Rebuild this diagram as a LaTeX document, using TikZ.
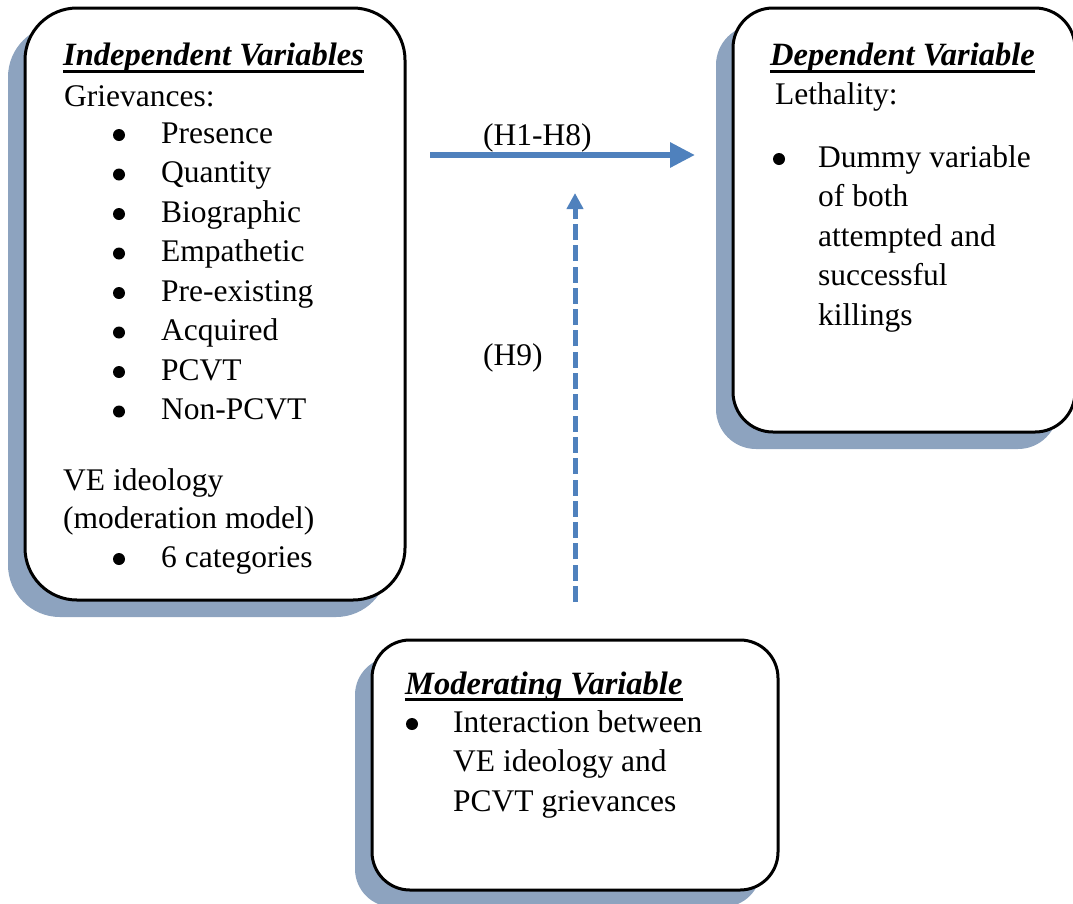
\documentclass[tikz,border=0pt]{standalone}
\usepackage{fontspec}
\setmainfont{Liberation Serif}
\usetikzlibrary{arrows.meta,calc}
\definecolor{shadowc}{RGB}{141,163,191}
\definecolor{arrowc}{RGB}{79,129,189}
\begin{document}
\begin{tikzpicture}[x=1pt,y=-1pt,
  varbox/.style={draw=black,line width=3pt,fill=white,inner sep=0pt},
  shad/.style={fill=shadowc,inner sep=0pt,draw=none},
  txt/.style={anchor=base west,inner sep=0pt,font=\fontsize{31.5}{39.5}\selectfont},
  ttl/.style={anchor=base west,inner sep=0pt,font=\fontsize{32.5}{39.5}\selectfont\bfseries\itshape},
  bul/.style={circle,fill=black,inner sep=0pt,minimum size=12pt},
  uline/.style={line width=3pt},
  solidarrow/.style={draw=arrowc,line width=6pt,-{Triangle[length=25pt,width=24pt]}},
  dasharrow/.style={draw=arrowc,line width=5pt,dash pattern=on 16pt off 5.3pt,-{Triangle[length=16pt,width=16pt]}},
]
\useasboundingbox (0,0) rectangle (1073,903);
% shadows
\node[shad,rounded corners=52pt,minimum width=380pt,minimum height=592pt] (ivshadow) at (198,321) {};
\node[shad,rounded corners=40pt,minimum width=342pt,minimum height=424pt] (dvshadow) at (887,237) {};
\node[shad,rounded corners=38pt,minimum width=406pt,minimum height=250pt] (mvshadow) at (558,782) {};
% boxes
\node[varbox,rounded corners=52pt,minimum width=380pt,minimum height=592pt] (ivbox) at (215,304) {};
\node[varbox,rounded corners=40pt,minimum width=342pt,minimum height=424pt] (dvbox) at (904,220) {};
\node[varbox,rounded corners=38pt,minimum width=406pt,minimum height=250pt] (mvbox) at (575,765) {};
% independent variables
\node[ttl] (ivt) at (63,65) {Independent Variables};
\draw[uline] ($(ivt.base west)+(0,6)$) -- ($(ivt.base east)+(0,6)$);
\node[txt] (griev) at (64,106) {Grievances:};
\node[bul] (ib1) at (119,135) {};   \node[txt] (i1) at (161,143) {Presence};
\node[bul] (ib2) at (119,174.5) {}; \node[txt] (i2) at (161,182.5) {Quantity};
\node[bul] (ib3) at (119,214) {};   \node[txt] (i3) at (161,222) {Biographic};
\node[bul] (ib4) at (119,253.5) {}; \node[txt] (i4) at (161,261.5) {Empathetic};
\node[bul] (ib5) at (119,293) {};   \node[txt] (i5) at (161,301) {Pre-existing};
\node[bul] (ib6) at (119,332.5) {}; \node[txt] (i6) at (161,340.5) {Acquired};
\node[bul] (ib7) at (119,372) {};   \node[txt] (i7) at (161,380) {PCVT};
\node[bul] (ib8) at (119,411.5) {}; \node[txt] (i8) at (161,419.5) {Non-PCVT};
\node[txt] (ve1) at (63,490) {VE ideology};
\node[txt] (ve2) at (63,528) {(moderation model)};
\node[bul] (ib9) at (119,559) {};   \node[txt] (i9) at (161,567) {6 categories};
% dependent variable
\node[ttl] (dvt) at (770,65) {Dependent Variable};
\draw[uline] ($(dvt.base west)+(0,6)$) -- ($(dvt.base east)+(0,6)$);
\node[txt] (leth) at (775,104) {Lethality:};
\node[bul] (db1) at (779,159) {};
\node[txt] (d1) at (818,167) {Dummy variable};
\node[txt] (d2) at (818,206.5) {of both};
\node[txt] (d3) at (818,246) {attempted and};
\node[txt] (d4) at (818,285.5) {successful};
\node[txt] (d5) at (818,325) {killings};
% moderating variable
\node[ttl] (mvt) at (405,694) {Moderating Variable};
\draw[uline] ($(mvt.base west)+(0,5)$) -- ($(mvt.base east)+(0,5)$);
\node[bul] (mb1) at (412,724) {};
\node[txt] (m1) at (453,732) {Interaction between};
\node[txt] (m2) at (453,771.5) {VE ideology and};
\node[txt] (m3) at (453,811) {PCVT grievances};
% arrows
\coordinate (hstart) at (430,155);
\coordinate (hend) at (695,155);
\draw[solidarrow] (hstart) -- (hend);
\node[txt] (h18) at (483,145) {(H1-H8)};
\coordinate (vstart) at (575,602);
\coordinate (vend) at (575,193);
\draw[dasharrow] (vstart) -- (vend);
\node[txt] (h9) at (483,365) {(H9)};
\end{tikzpicture}
\end{document}
